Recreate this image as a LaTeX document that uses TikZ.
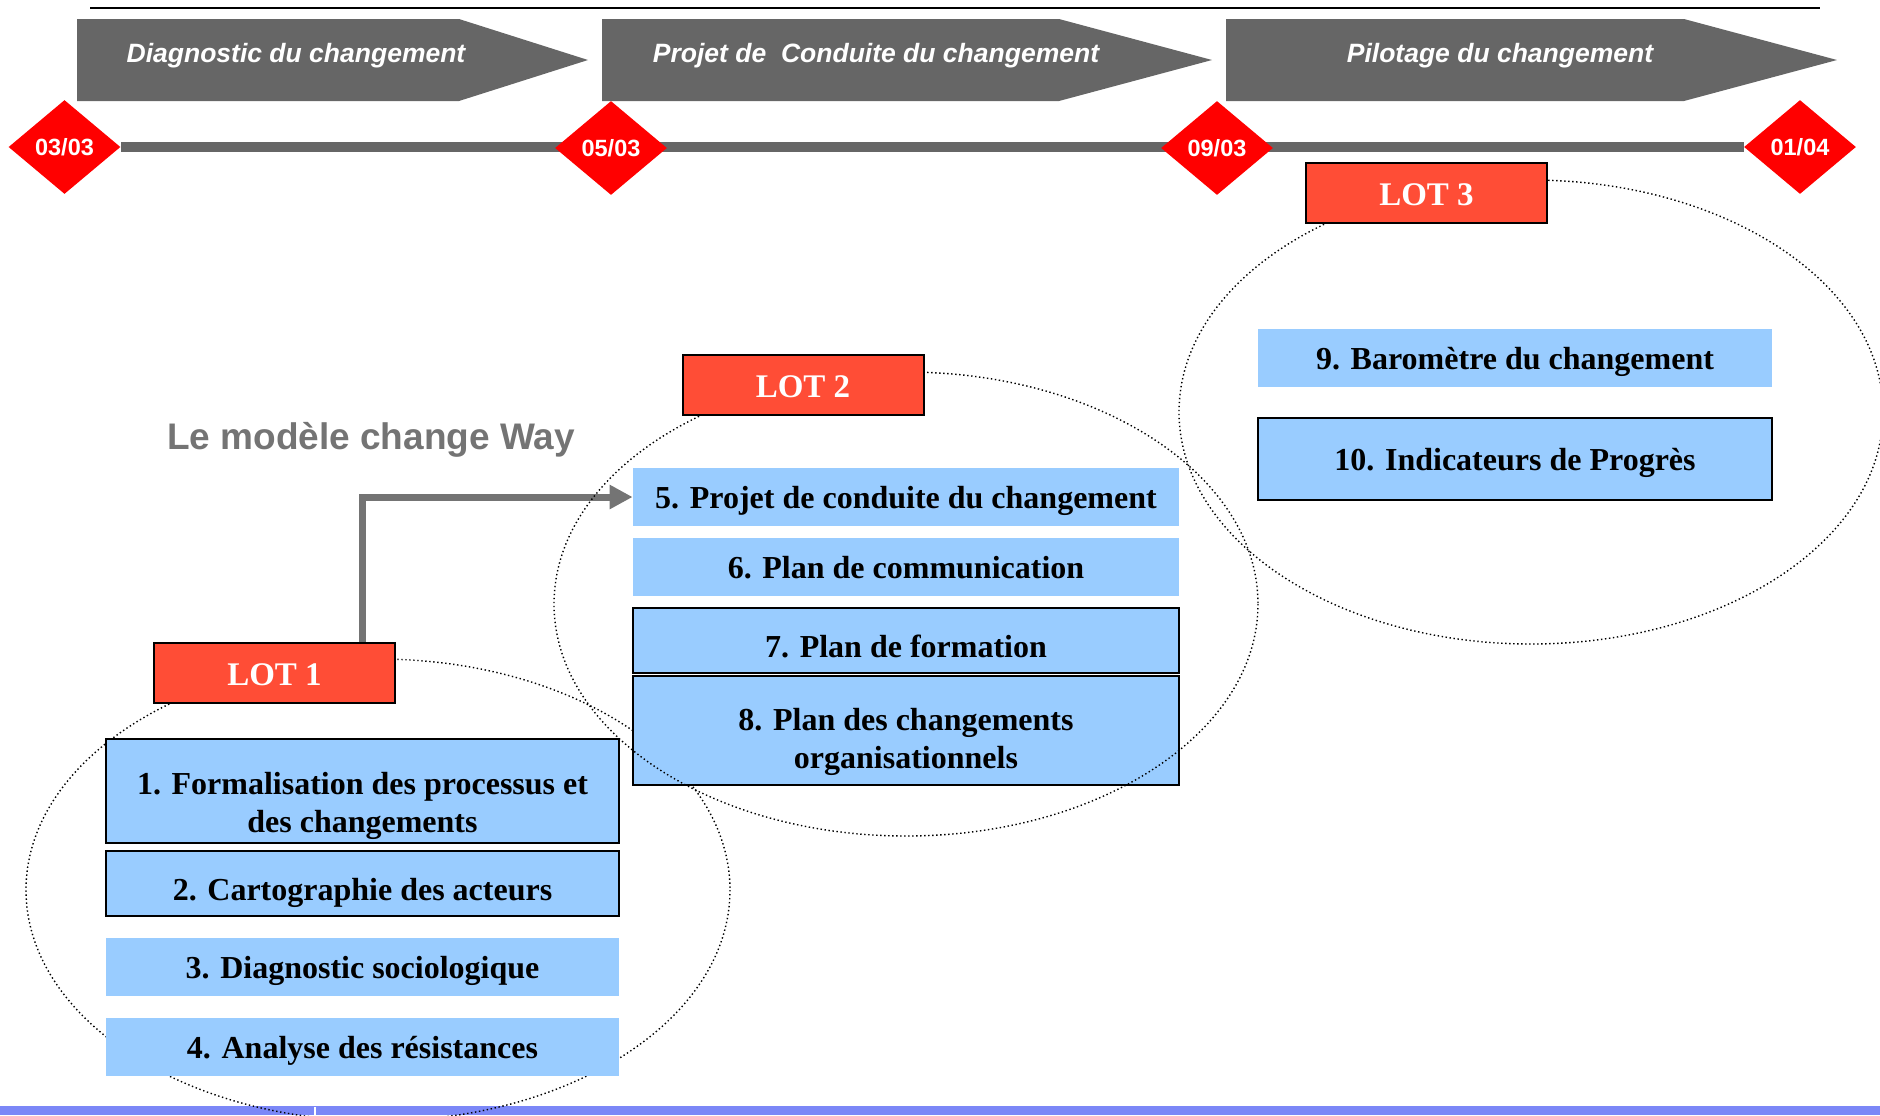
\documentclass[tikz,border=0pt]{standalone}
\usepackage{fontspec}
\setmainfont{Liberation Serif}
\newfontfamily\arialfont{Liberation Sans}
\usetikzlibrary{shapes.geometric,arrows.meta,calc,backgrounds}
\definecolor{chevgray}{HTML}{666666}
\definecolor{titlegray}{HTML}{747474}
\definecolor{lotred}{HTML}{FF4D36}
\definecolor{boxblue}{HTML}{99CCFF}
\definecolor{bandblue}{HTML}{7B87F7}
\definecolor{datered}{HTML}{FF0000}
\begin{document}
\begin{tikzpicture}[x=0.5pt,y=-0.5pt,
  lotbox/.style={draw=black, line width=1pt, fill=lotred, text=white,
    font=\fontsize{16.5}{19}\selectfont\bfseries,
    minimum width=120.5pt, minimum height=30pt, inner sep=0pt,
    text height=12pt, text depth=0pt},
  bluebox/.style={fill=boxblue, font=\fontsize{16}{19}\selectfont\bfseries,
    align=center, inner sep=0pt, text height=11.5pt, text depth=0pt},
  framed/.style={draw=black, line width=1pt},
  lowtext/.style={text height=16.5pt, text depth=0pt},
  datediamond/.style={diamond, fill=datered, text=white,
    font=\arialfont\bfseries\fontsize{11.75}{14}\selectfont,
    minimum width=56pt, minimum height=47pt, inner sep=0pt},
  chevron/.style={fill=chevgray},
  chevtext/.style={text=white, font=\arialfont\bfseries\itshape\fontsize{13.25}{16}\selectfont,
    anchor=base, inner sep=0pt},
  lotellipse/.style={draw=black, line width=0.7pt, dash pattern=on 0.7pt off 1.3pt},
  connector/.style={draw=titlegray, line width=3.5pt,
    -{Triangle[length=11.5pt,width=11.5pt]}},
]
\useasboundingbox (0,0) rectangle (1880,1115);

% bottom band
\fill[bandblue] (0,1106) rectangle (1880,1115);
\draw[white, line width=1pt] (315,1107) -- (315,1115);

% top rule
\draw[black, line width=1pt] (90,8) -- (1820,8);

% chevrons
\fill[chevron] (77,19) -- (459,19) -- (588,60) -- (459,101) -- (77,101) -- cycle;
\node[chevtext] (t1) at (296,62) {Diagnostic du changement};
\fill[chevron] (602,19) -- (1059,19) -- (1212,60) -- (1059,101) -- (602,101) -- cycle;
\node[chevtext] (t2) at (876,62) {Projet de\ \ Conduite du changement};
\fill[chevron] (1226,19) -- (1684,19) -- (1837,60) -- (1684,101) -- (1226,101) -- cycle;
\node[chevtext] (t3) at (1500,62) {Pilotage du changement};

% milestones
\node[datediamond] (d1) at (64.5,147) {03/03};
\node[datediamond] (d2) at (611,148) {05/03};
\node[datediamond] (d3) at (1217,148) {09/03};
\node[datediamond] (d4) at (1800,147) {01/04};
\begin{scope}[on background layer]
  \draw[chevgray, line width=5pt] (d1) -- (d4);
\end{scope}

% title
\node[font=\arialfont\bfseries\fontsize{18.5}{22}\selectfont, text=titlegray,
  anchor=base, inner sep=0pt] (title) at (371,449) {Le modèle change Way};

% LOT 1
\draw[lotellipse] (378,890) ellipse [x radius=352, y radius=231];
\node[lotbox] (lot1) at (274.5,673) {LOT 1};
\node[bluebox, framed, minimum width=256.5pt, minimum height=52pt,
  text height=41pt] (b1) at (362.5,791)
  {1. Formalisation des processus et\\des changements};
\node[bluebox, framed, lowtext, minimum width=256.5pt, minimum height=32.5pt] (b2) at (362.5,883.5)
  {2. Cartographie des acteurs};
\node[bluebox, minimum width=256.5pt, minimum height=29pt] (b3) at (362.5,967)
  {3. Diagnostic sociologique};
\node[bluebox, minimum width=256.5pt, minimum height=29pt] (b4) at (362.5,1047)
  {4. Analyse des résistances};

% LOT 2 boxes
\node[bluebox, minimum width=273pt, minimum height=29pt] (b5) at (906,497)
  {5. Projet de conduite du changement};
\node[bluebox, minimum width=273pt, minimum height=29pt] (b6) at (906,567)
  {6. Plan de communication};
\node[bluebox, framed, lowtext, minimum width=273pt, minimum height=32.5pt] (b7) at (906,640.5)
  {7. Plan de formation};
\node[bluebox, framed, minimum width=273pt, minimum height=54.5pt,
  text height=37.5pt] (b8) at (906,730.5)
  {8. Plan des changements\\organisationnels};

% connector
\draw[connector] (lot1.north -| b1.center) |- (b5.west);

\draw[lotellipse] (906,604) ellipse [x radius=352, y radius=232];
\node[lotbox] (lot2) at (803,385) {LOT 2};

% LOT 3
\draw[lotellipse] (1531,412) ellipse [x radius=352, y radius=232];
\node[lotbox] (lot3) at (1426.5,193) {LOT 3};
\node[bluebox, minimum width=257pt, minimum height=29pt] (b9) at (1515,358)
  {9. Baromètre du changement};
\node[bluebox, framed, minimum width=257pt, minimum height=41pt] (b10) at (1515,459)
  {10. Indicateurs de Progrès};
\end{tikzpicture}
\end{document}
